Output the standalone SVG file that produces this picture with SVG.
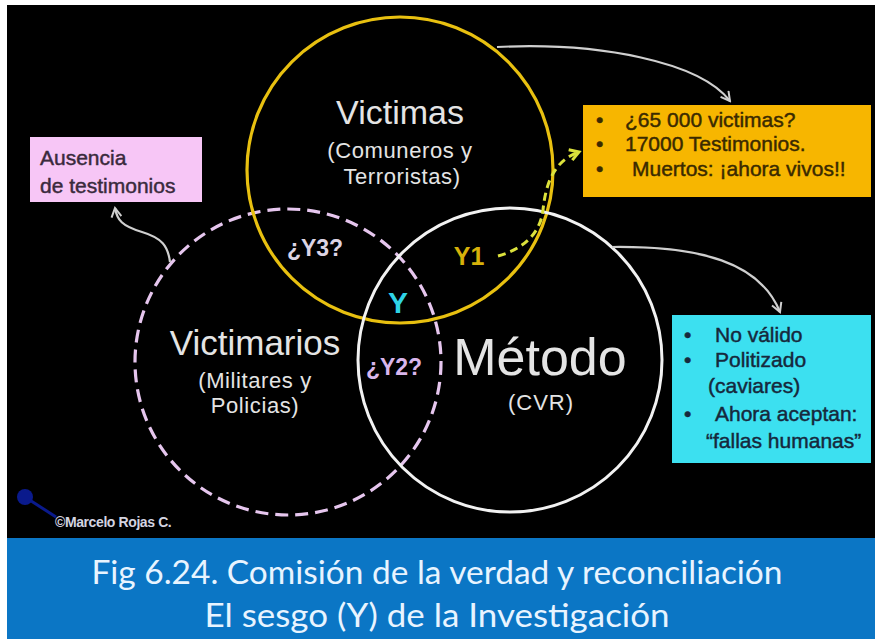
<svg xmlns="http://www.w3.org/2000/svg" width="875" height="639" viewBox="0 0 875 639">
<style>
.t{font-family:"Liberation Sans",Arial,sans-serif;}
.lbl{fill:#e4e4e4;text-anchor:middle;}
.box{font-family:"Liberation Sans",Arial,sans-serif;font-size:21px;stroke-width:0.45;}
.conn{fill:none;stroke:#cfcfcf;stroke-width:2.2;}
.cap{font-family:Lato,"Open Sans",sans-serif;fill:#e8f4ff;text-anchor:middle;}
</style>
<defs>
<marker id="arr" viewBox="0 0 12 12" refX="10" refY="6" markerWidth="12" markerHeight="12" markerUnits="userSpaceOnUse" orient="auto">
<path d="M1 1 L10 6 L1 11" fill="none" stroke="#cfcfcf" stroke-width="2"/>
</marker>
<marker id="arrY" viewBox="0 0 14 14" refX="11" refY="7" markerWidth="14" markerHeight="14" markerUnits="userSpaceOnUse" orient="auto">
<path d="M2 1.5 L11 7 L2 12.5" fill="none" stroke="#dce23c" stroke-width="3"/>
</marker>
</defs>
<rect x="0" y="0" width="875" height="639" fill="#ffffff"/>
<rect x="7" y="5" width="868" height="533" fill="#000000"/>
<rect x="7" y="538" width="868" height="101" fill="#0b76c5"/>

<g id="victimarios">
<circle cx="288" cy="362" r="153" fill="none" stroke="#e6c6ee" stroke-width="3.2" stroke-dasharray="13 7"/>
<text class="t lbl" x="255" y="355" font-size="35">Victimarios</text>
<text class="t lbl" x="255" y="388" font-size="22" letter-spacing="0.6">(Militares y</text>
<text class="t lbl" x="255" y="413" font-size="22" letter-spacing="0.6">Policias)</text>
</g>

<g id="victimas">
<circle cx="400" cy="170" r="153" fill="none" stroke="#e8c010" stroke-width="3.2"/>
<text class="t lbl" x="400" y="124" font-size="34">Victimas</text>
<text class="t lbl" x="400" y="158" font-size="22" letter-spacing="0.6">(Comuneros  y</text>
<text class="t lbl" x="402" y="184" font-size="22" letter-spacing="0.6">Terroristas)</text>
</g>

<g id="metodo">
<circle cx="510" cy="360" r="152" fill="none" stroke="#f2f2f2" stroke-width="3"/>
<text class="t lbl" x="540" y="375" font-size="52">Método</text>
<text class="t lbl" x="541" y="410" font-size="22" letter-spacing="1">(CVR)</text>
</g>

<g id="intersections" class="t" font-weight="bold" text-anchor="middle">
<text x="315" y="256" font-size="23" fill="#dcd4e4">¿Y3?</text>
<text x="398" y="313" font-size="30" fill="#2fd3e6">Y</text>
<text x="469" y="265" font-size="25" fill="#d6b10a">Y1</text>
<text x="394" y="375" font-size="23" fill="#d9b6ec">¿Y2?</text>
</g>

<g id="box-ausencia">
<rect x="30" y="137" width="172" height="65" fill="#f7c6f6"/>
<g class="box" fill="#3a2a3c" stroke="#3a2a3c" font-size="22">
<text x="40" y="165">Ausencia</text>
<text x="40" y="193">de testimonios</text>
</g>
</g>

<g id="box-orange">
<rect x="583" y="105" width="288" height="92" fill="#f7b600"/>
<g class="box" fill="#3a2a00" stroke="#3a2a00" font-size="21">
<text x="596" y="127">•</text>
<text x="596" y="151">•</text>
<text x="596" y="176">•</text>
<text x="625" y="127">¿65 000 victimas?</text>
<text x="625" y="151">17000 Testimonios.</text>
<text x="632" y="176">Muertos: ¡ahora vivos!!</text>
</g>
</g>

<g id="box-cyan">
<rect x="672" y="315" width="199" height="148" fill="#3ce0f0"/>
<g class="box" fill="#16283c" stroke="#16283c" font-size="21">
<text x="684" y="342">•</text>
<text x="684" y="367">•</text>
<text x="684" y="421">•</text>
<text x="715" y="342">No válido</text>
<text x="715" y="367">Politizado</text>
<text x="708" y="393">(caviares)</text>
<text x="715" y="421">Ahora aceptan:</text>
<text x="706" y="448">“fallas humanas”</text>
</g>
</g>

<g id="connectors">
<path class="conn" d="M497 47 C600 42 700 62 730 101" marker-end="url(#arr)"/>
<path class="conn" d="M612 247 C700 246 760 262 780 312" marker-end="url(#arr)"/>
<path class="conn" d="M170 262 C168 246 162 238 142 232 C122 226 117 220 115 208" marker-end="url(#arr)"/>
<path d="M498 256 C520 250 540 236 543 210 C546 180 556 160 579 152" fill="none" stroke="#dce23c" stroke-width="3" stroke-dasharray="8 5" marker-end="url(#arrY)"/>
</g>

<g id="credit">
<line x1="25" y1="497" x2="56" y2="517" stroke="#0a1a8c" stroke-width="3"/>
<circle cx="25" cy="497" r="8" fill="#0a1a8c"/>
<text class="t" x="55" y="527" font-size="14" font-weight="bold" fill="#d4d4e0" letter-spacing="-0.4">©Marcelo Rojas C.</text>
</g>

<g id="caption">
<text class="cap" x="437" y="584" font-size="32" textLength="691" lengthAdjust="spacingAndGlyphs">Fig 6.24. Comisión de la verdad y reconciliación</text>
<text class="cap" x="437" y="627" font-size="32" textLength="465" lengthAdjust="spacingAndGlyphs">El sesgo (Y) de la Investigación</text>
</g>
</svg>
